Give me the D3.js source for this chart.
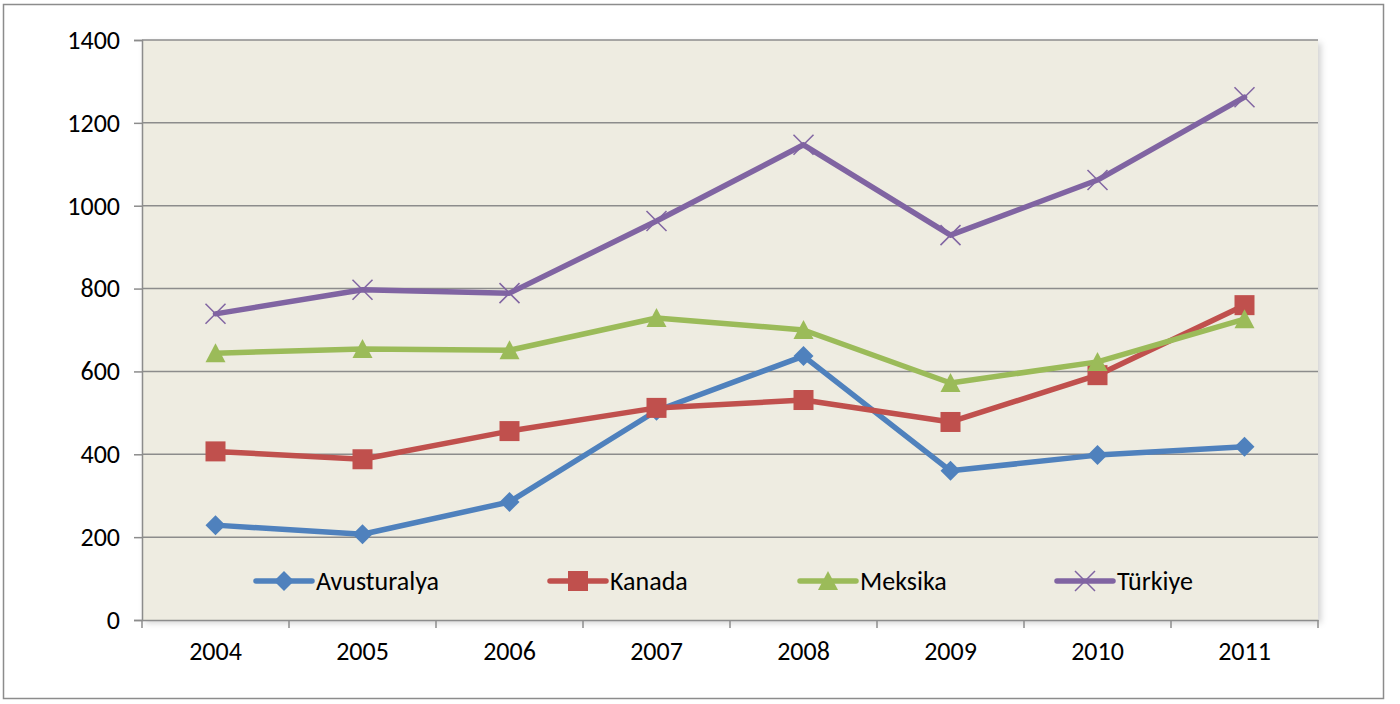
<!DOCTYPE html>
<html lang="tr">
<head>
<meta charset="UTF-8">
<title>Line chart</title>
<script src="https://d3js.org/d3.v7.min.js"></script>
<style>
  body { margin: 0; background: #fff; }
  text { font-family: Carlito, Calibri, "Open Sans", "Liberation Sans", sans-serif; fill: #000; }
</style>
</head>
<body>
<script>
    const years = ["2004", "2005", "2006", "2007", "2008", "2009", "2010", "2011"];
    const avusturalya = [229, 207, 285, 505, 637, 360, 398, 418];
    const kanada = [407, 388, 456, 512, 531, 478, 591, 760];
    const meksika = [644, 654, 651, 729, 700, 572, 623, 726];
    const turkiye = [739, 797, 789, 963, 1147, 929, 1062, 1262];
    const yTicks = [0, 200, 400, 600, 800, 1000, 1200, 1400];

    const series = [
        { name: "Avusturalya", values: avusturalya, color: "#4F81BD", marker: "diamond" },
        { name: "Kanada", values: kanada, color: "#C0504D", marker: "square" },
        { name: "Meksika", values: meksika, color: "#9BBB59", marker: "triangle" },
        { name: "Türkiye", values: turkiye, color: "#8064A2", marker: "x" }
    ];

    const width = 1400;
    const height = 704;
    const plot = { left: 142, right: 1318, top: 40, bottom: 620 };
    const fontFamily = "Carlito, Calibri, 'Open Sans', 'Liberation Sans', sans-serif";

    const svg = d3.select("body").append("svg")
        .attr("width", width)
        .attr("height", height);

    // chart border
    svg.append("rect")
        .attr("x", 3.5).attr("y", 4.5)
        .attr("width", 1380).attr("height", 694)
        .attr("fill", "#fff")
        .attr("stroke", "#8c8c8c")
        .attr("stroke-width", 1.5);

    const defs = svg.append("defs");
    const shadow = defs.append("filter").attr("id", "shadow")
        .attr("x", "-5%").attr("y", "-5%").attr("width", "110%").attr("height", "110%");
    shadow.append("feDropShadow")
        .attr("dx", 3).attr("dy", 3).attr("stdDeviation", 3)
        .attr("flood-color", "#000").attr("flood-opacity", 0.18);

    const x = d3.scaleBand()
        .domain(years)
        .range([plot.left, plot.right]);

    const y = d3.scaleLinear()
        .domain([0, 1400])
        .range([plot.bottom, plot.top]);

    // plot area
    svg.append("rect")
        .attr("x", plot.left).attr("y", plot.top)
        .attr("width", plot.right - plot.left)
        .attr("height", plot.bottom - plot.top)
        .attr("fill", "#EEECE1")
        .attr("filter", "url(#shadow)");

    // gridlines
    svg.append("g")
        .selectAll("line")
        .data(yTicks.filter(d => d > 0))
        .join("line")
        .attr("x1", plot.left).attr("x2", plot.right)
        .attr("y1", d => y(d)).attr("y2", d => y(d))
        .attr("stroke", "#8c8c8c")
        .attr("stroke-width", 1.5);

    // y axis
    const yAxis = svg.append("g")
        .attr("transform", `translate(${plot.left},0)`)
        .call(d3.axisLeft(y).tickValues(yTicks).tickFormat(d3.format("d")).tickSize(8).tickPadding(14));
    yAxis.select(".domain").attr("stroke", "#8c8c8c").attr("stroke-width", 1.5);
    yAxis.selectAll(".tick line").attr("stroke", "#8c8c8c").attr("stroke-width", 1.5);
    yAxis.selectAll(".tick text").attr("font-size", 26).attr("fill", "#000")
        .style("font-family", fontFamily);

    // x axis
    const xAxis = svg.append("g")
        .attr("transform", `translate(0,${plot.bottom})`)
        .call(d3.axisBottom(x).tickSize(0).tickPadding(22));
    xAxis.select(".domain").attr("stroke", "#8c8c8c").attr("stroke-width", 1.5);
    xAxis.selectAll(".tick text").attr("font-size", 26).attr("fill", "#000")
        .style("font-family", fontFamily);
    const boundaries = years.map(d => x(d)).concat([x(years[years.length - 1]) + x.bandwidth()]);
    svg.append("g")
        .selectAll("line")
        .data(boundaries)
        .join("line")
        .attr("x1", d => d).attr("x2", d => d)
        .attr("y1", plot.bottom).attr("y2", plot.bottom + 8)
        .attr("stroke", "#8c8c8c")
        .attr("stroke-width", 1.5);

    const cx = d => x(d) + x.bandwidth() / 2;

    function drawMarker(g, type, color, size) {
        if (type === "diamond") {
            g.append("path")
                .attr("d", `M0,${-size}L${size},0L0,${size}L${-size},0Z`)
                .attr("fill", color);
        } else if (type === "square") {
            g.append("rect")
                .attr("x", -size).attr("y", -size)
                .attr("width", size * 2).attr("height", size * 2)
                .attr("fill", color);
        } else if (type === "triangle") {
            g.append("path")
                .attr("d", `M0,${-size}L${size},${size * 0.9}L${-size},${size * 0.9}Z`)
                .attr("fill", color);
        } else {
            g.append("path")
                .attr("d", `M${-size},${-size}L${size},${size}M${-size},${size}L${size},${-size}`)
                .attr("stroke", color)
                .attr("stroke-width", 1.5)
                .attr("fill", "none");
        }
    }

    const markerSize = { diamond: 10, square: 10, triangle: 10, x: 10 };

    const line = d3.line()
        .x((d, i) => cx(years[i]))
        .y(d => y(d));

    series.forEach(s => {
        svg.append("path")
            .datum(s.values)
            .attr("fill", "none")
            .attr("stroke", s.color)
            .attr("stroke-width", 5.5)
            .attr("stroke-linejoin", "round")
            .attr("stroke-linecap", "round")
            .attr("d", line);

        s.values.forEach((v, i) => {
            const g = svg.append("g")
                .attr("transform", `translate(${cx(years[i])},${y(v)})`);
            drawMarker(g, s.marker, s.color, markerSize[s.marker]);
        });
    });

    // legend
    const legendX = [256, 550, 800, 1057];
    const legendY = 581;
    series.forEach((s, i) => {
        const g = svg.append("g").attr("transform", `translate(${legendX[i]},${legendY})`);
        g.append("line")
            .attr("x1", 0).attr("x2", 56)
            .attr("y1", 0).attr("y2", 0)
            .attr("stroke", s.color)
            .attr("stroke-width", 5.5)
            .attr("stroke-linecap", "round");
        const m = g.append("g").attr("transform", "translate(28,0)");
        drawMarker(m, s.marker, s.color, markerSize[s.marker]);
        g.append("text")
            .attr("x", 60).attr("y", 0)
            .attr("dy", "0.35em")
            .attr("font-size", 26)
            .text(s.name);
    });
</script>
</body>
</html>
